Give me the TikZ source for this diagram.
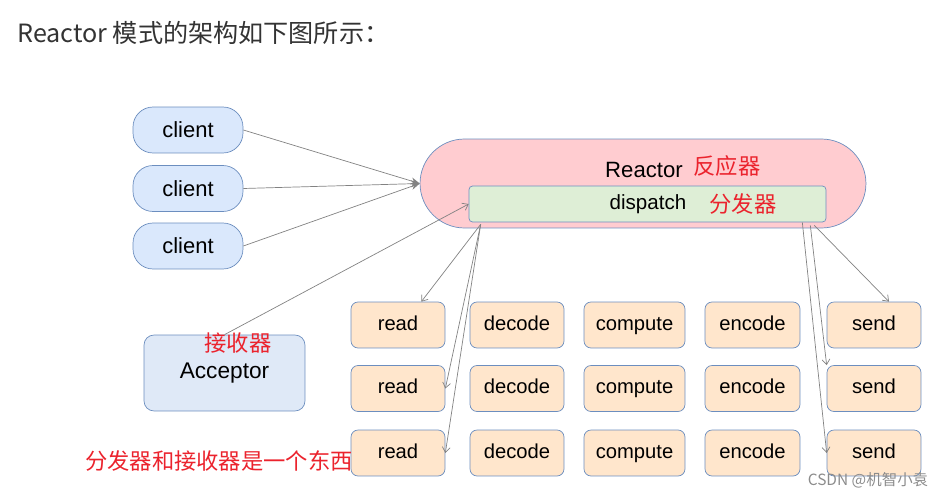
\documentclass[tikz,border=0pt]{standalone}
\usepackage{fontspec}
\setmainfont{Liberation Sans}
\newfontfamily\cjk{Noto Sans CJK SC}
\usetikzlibrary{arrows.meta,positioning}
\definecolor{edgeblue}{RGB}{108,142,191}
\definecolor{clientfill}{RGB}{218,232,252}
\definecolor{accfill}{RGB}{223,233,247}
\definecolor{reactfill}{RGB}{255,204,208}
\definecolor{dispfill}{RGB}{222,238,214}
\definecolor{taskfill}{RGB}{255,230,204}
\definecolor{notered}{RGB}{235,35,45}
\definecolor{linegray}{RGB}{130,130,130}

\begin{document}
\begin{tikzpicture}[x=0.02cm, y=-0.02cm,
		basic/.style = {draw=edgeblue, thin, align=center, inner sep=0pt},
		client/.style = {basic, fill=clientfill, rounded corners=0.4cm, minimum width=2.2cm, minimum height=0.92cm, font=\fontsize{12.5}{14}\selectfont},
		task/.style = {basic, fill=taskfill, rounded corners=0.14cm, minimum height=0.92cm, text height=8.5pt, text depth=2.5pt, font=\fontsize{11.5}{13}\selectfont},
		note/.style = {text=notered, font=\cjk\fontsize{12.7}{14}\selectfont, inner sep=0pt},
		link/.style = {draw=linegray, thin, -{Straight Barb[length=3pt,width=4.5pt]}},
		>=Stealth]
		\useasboundingbox (0,0) rectangle (951,500);
		
		% Title
		\node[anchor=west, inner sep=0pt, text=black!80, font=\cjk\fontsize{14.3}{16}\selectfont] (title) at (17,33) {Reactor 模式的架构如下图所示：};
		
		% Reactor with its dispatch
		\node[basic, fill=reactfill, rounded corners=0.89cm, minimum width=8.92cm, minimum height=1.78cm] (reactor) at (643,183.5) {};
		\node[basic, fill=dispfill, rounded corners=2pt, minimum width=7.14cm, minimum height=0.72cm] (dispatch) at (647.5,204) {};
		\node[inner sep=0pt, font=\fontsize{12.6}{14}\selectfont] (rlabel) at (644,170) {Reactor};
		\node[note] (rnote) at (727,166) {反应器};
		\node[inner sep=0pt, font=\fontsize{11.7}{13}\selectfont] (dlabel) at (648,204) {dispatch};
		\node[note] (dnote) at (743,204) {分发器};
		
		% Clients
		\foreach \i/\y in {1/130,2/188.5,3/246}
		\node[client] (client\i) at (188,\y) {client};
		
		% Acceptor
		\node[basic, fill=accfill, rounded corners=0.2cm, minimum width=3.22cm, minimum height=1.52cm, font=\fontsize{12.9}{14}\selectfont] (acceptor) at (224.5,373) {Acceptor};
		\node[note] (anote) at (238,343) {接收器};
		
		% Handler grid
		\foreach \i/\y in {1/325,2/388.5,3/453}
		\foreach \name/\x/\w in {read/398/1.88,decode/517/1.88,compute/634.5/2.02,encode/752.5/1.9,send/874/1.88}
		\node[task, minimum width=\w cm] (\name\i) at (\x,\y) {\name};
		
		% Notes
		\node[note] (bnote) at (219,461) {分发器和接收器是一个东西};
		\node[inner sep=0pt, text=black!45, font=\cjk\fontsize{8.8}{10}\selectfont] (mark) at (868,480) {CSDN @机智小袁};
		
		% Lines from the clients into the reactor
		\foreach \i in {1,2,3}
		\draw[draw=linegray, thin, -{Stealth[length=5pt,width=4pt]}] (client\i.east) -- (reactor.west);
		
		\draw[link] (acceptor.north) -- (dispatch.west);
		
		% Lines from dispatch to read and send
		\coordinate (dl) at ([xshift=0.24cm, yshift=-0.04cm]dispatch.south west);
		\draw[link] (dl) -- ([xshift=-0.48cm]read1.north east);
		\draw[link] (dl) -- (read2.east);
		\draw[link] (dl) -- (read3.east);
		
		\coordinate (dr1) at ([xshift=-0.48cm]dispatch.south east);
		\coordinate (dr2) at ([xshift=-0.32cm, yshift=-0.06cm]dispatch.south east);
		\coordinate (dr3) at ([xshift=-0.24cm, yshift=-0.06cm]dispatch.south east);
		\draw[link] (dr1) -- (send3.west);
		\draw[link] (dr2) -- (send2.north west);
		\draw[link] (dr3) -- ([xshift=0.3cm]send1.north);
		
	\end{tikzpicture}
\end{document}
